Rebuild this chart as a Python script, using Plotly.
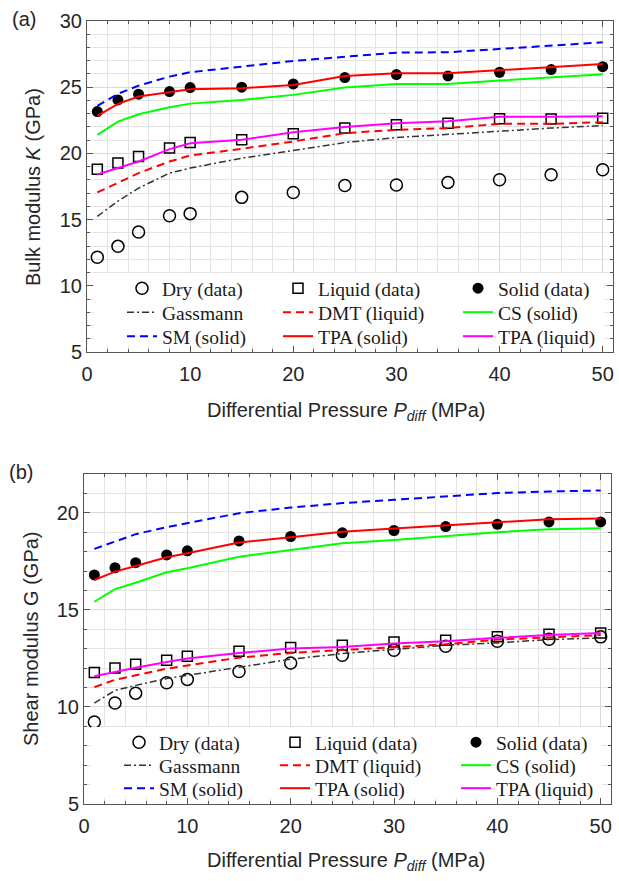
import plotly.graph_objects as go

P = [1, 3, 5, 8, 10, 15, 20, 25, 30, 35, 40, 45, 50]

# Bulk modulus K (GPa)
K_dry = [12.15, 12.98, 14.06, 15.29, 15.45, 16.68, 17.05, 17.58, 17.61, 17.81, 18.01, 18.39, 18.76]
K_liq = [18.81, 19.27, 19.77, 20.40, 20.82, 21.03, 21.48, 21.91, 22.16, 22.28, 22.61, 22.59, 22.66]
K_sol = [23.16, 24.04, 24.47, 24.67, 24.97, 25.00, 25.25, 25.73, 25.95, 25.85, 26.13, 26.33, 26.55]
K_gass = [15.24, 16.40, 17.38, 18.51, 18.89, 19.64, 20.22, 20.82, 21.20, 21.45, 21.70, 21.91, 22.10]
K_dmt = [17.05, 17.81, 18.51, 19.39, 19.84, 20.35, 20.90, 21.53, 21.78, 21.91, 22.23, 22.23, 22.36]
K_cs = [21.40, 22.40, 22.96, 23.49, 23.76, 24.04, 24.42, 24.97, 25.25, 25.24, 25.50, 25.75, 25.98]
K_sm = [23.59, 24.50, 25.12, 25.80, 26.13, 26.55, 26.98, 27.30, 27.61, 27.64, 27.89, 28.11, 28.39]
K_tpa_s = [22.84, 23.74, 24.29, 24.60, 24.85, 24.92, 25.17, 25.85, 26.05, 26.05, 26.30, 26.55, 26.76]
K_tpa_l = [18.41, 18.89, 19.39, 20.32, 20.77, 21.03, 21.60, 22.00, 22.28, 22.43, 22.76, 22.76, 22.81]

# Shear modulus G (GPa)
G_dry = [9.22, 10.20, 10.71, 11.25, 11.42, 11.83, 12.26, 12.66, 12.92, 13.13, 13.38, 13.49, 13.61]
G_liq = [11.77, 12.00, 12.20, 12.40, 12.61, 12.87, 13.06, 13.18, 13.35, 13.44, 13.61, 13.75, 13.81]
G_sol = [16.80, 17.17, 17.43, 17.83, 18.04, 18.55, 18.78, 18.97, 19.09, 19.29, 19.41, 19.53, 19.53]
G_gass = [10.20, 10.85, 11.11, 11.46, 11.63, 12.06, 12.46, 12.75, 12.95, 13.18, 13.30, 13.47, 13.56]
G_dmt = [11.02, 11.40, 11.63, 11.97, 12.14, 12.54, 12.78, 12.92, 13.09, 13.23, 13.47, 13.58, 13.70]
G_cs = [15.42, 16.07, 16.40, 16.94, 17.14, 17.74, 18.09, 18.43, 18.60, 18.81, 19.00, 19.16, 19.21]
G_sm = [18.14, 18.52, 18.90, 19.26, 19.47, 19.98, 20.27, 20.50, 20.67, 20.84, 21.02, 21.10, 21.15]
G_tpa_s = [16.54, 16.97, 17.26, 17.71, 17.92, 18.47, 18.74, 19.02, 19.19, 19.36, 19.52, 19.67, 19.71]
G_tpa_l = [11.58, 11.80, 12.02, 12.31, 12.49, 12.78, 13.01, 13.09, 13.27, 13.38, 13.56, 13.70, 13.81]

names = ["Dry (data)", "Liquid (data)", "Solid (data)", "Gassmann", "DMT (liquid)",
         "CS (solid)", "SM (solid)", "TPA (solid)", "TPA (liquid)"]

W, H = 619, 881
fig = go.Figure()

styles = [
    dict(mode="markers", marker=dict(symbol="circle-open", size=12, color="black",
                                     line=dict(width=1.5, color="black"))),
    dict(mode="markers", marker=dict(symbol="square-open", size=10, color="black",
                                     line=dict(width=1.5, color="black"))),
    dict(mode="markers", marker=dict(symbol="circle", size=11, color="black")),
    dict(mode="lines", line=dict(color="#333333", width=1.5, dash="7px,3px,2px,3px")),
    dict(mode="lines", line=dict(color="#ff0000", width=2, dash="8px,5px")),
    dict(mode="lines", line=dict(color="#00ff00", width=2)),
    dict(mode="lines", line=dict(color="#0000ff", width=2, dash="8px,5px")),
    dict(mode="lines", line=dict(color="#ff0000", width=2)),
    dict(mode="lines", line=dict(color="#ff00ff", width=2)),
]

legfont = dict(family="Liberation Serif, Times New Roman, serif", size=19.5, color="#1a1a1a")
legends = {}

def add_panel(series, xa, ya, first_leg, text_x, row_y):
    for i, (ys, st) in enumerate(zip(series, styles)):
        n = first_leg + i
        key = "legend" if n == 1 else "legend%d" % n
        fig.add_trace(go.Scatter(x=P, y=ys, name=names[i], legend=key, xaxis=xa, yaxis=ya, **st))
        col, row = i % 3, i // 3
        legends[key] = dict(orientation="v", x=(text_x[col] - 40) / W, xanchor="left",
                            y=1 - (row_y[row] - 19) / H, yanchor="top",
                            bgcolor="rgba(0,0,0,0)", borderwidth=0, font=legfont,
                            tracegroupgap=0)

add_panel([K_dry, K_liq, K_sol, K_gass, K_dmt, K_cs, K_sm, K_tpa_s, K_tpa_l], "x", "y", 1,
          (162, 318, 498), (288, 312, 336))
add_panel([G_dry, G_liq, G_sol, G_gass, G_dmt, G_cs, G_sm, G_tpa_s, G_tpa_l], "x2", "y2", 10,
          (159, 315, 496), (742, 765, 788))

tickfont = dict(family="Arial, Liberation Sans, sans-serif", size=20, color="#262626")
gridc = "#d9d9d9"
mgridc = "#e4e4e4"
axc = "#555555"

def xax(domain, anchor):
    return dict(domain=domain, anchor=anchor, range=[0, 51], dtick=10, tick0=0,
                showgrid=True, gridcolor=gridc, gridwidth=1,
                minor=dict(dtick=2, showgrid=True, gridcolor=mgridc, ticks="inside", ticklen=3, tickcolor=axc),
                ticks="inside", ticklen=6, tickcolor=axc, showline=True, linecolor=axc, linewidth=1,
                mirror="ticks", zeroline=False, tickfont=tickfont, automargin=False,
                ticklabelstandoff=4)

def yax(domain, anchor, rng):
    return dict(domain=domain, anchor=anchor, range=rng, dtick=5, tick0=0,
                showgrid=True, gridcolor=gridc, gridwidth=1,
                minor=dict(dtick=1, showgrid=True, gridcolor=mgridc, ticks="inside", ticklen=3, tickcolor=axc),
                ticks="inside", ticklen=6, tickcolor=axc, showline=True, linecolor=axc, linewidth=1,
                mirror="ticks", zeroline=False, tickfont=tickfont, automargin=False)

fig.update_layout(
    width=W, height=H,
    margin=dict(l=0, r=0, t=0, b=0, autoexpand=False),
    paper_bgcolor="white", plot_bgcolor="white",
    xaxis=xax([87 / W, 613 / W], "y"),
    yaxis=yax([1 - 352 / H, 1 - 21 / H], "x", [5, 30]),
    xaxis2=xax([84 / W, 611 / W], "y2"),
    yaxis2=yax([1 - 804 / H, 1 - 474 / H], "x2", [5, 22]),
    showlegend=True,
    **legends,
)

# white legend backdrop inside each axes (hides the grid behind the legend)
fig.add_shape(type="rect", xref="x domain", yref="y domain", x0=0.013, x1=0.983,
              y0=0.019, y1=(352 - 273) / 331, fillcolor="white", line_width=0, layer="above")
fig.add_shape(type="rect", xref="x2 domain", yref="y2 domain", x0=0.013, x1=0.983,
              y0=0.019, y1=(804 - 727) / 330, fillcolor="white", line_width=0, layer="above")

labfont = dict(family="Arial, Liberation Sans, sans-serif", size=20, color="#262626")
ann = [
    dict(text="(a)", x=10 / W, y=1 - 19 / H, xanchor="left", yanchor="middle"),
    dict(text="(b)", x=7 / W, y=1 - 472 / H, xanchor="left", yanchor="middle"),
    dict(text="Bulk modulus <i>K</i> (GPa)", x=33 / W, y=1 - 187 / H, xanchor="center",
         yanchor="middle", textangle=-90),
    dict(text="Shear modulus G (GPa)", x=31 / W, y=1 - 639 / H, xanchor="center",
         yanchor="middle", textangle=-90),
    dict(text="Differential Pressure <i>P</i><sub><i>diff</i></sub> (MPa)", x=346 / W, y=1 - 397 / H,
         xanchor="center", yanchor="top"),
    dict(text="Differential Pressure <i>P</i><sub><i>diff</i></sub> (MPa)", x=346 / W, y=1 - 847 / H,
         xanchor="center", yanchor="top"),
]
for a in ann:
    a.update(xref="paper", yref="paper", showarrow=False, font=labfont)
fig.update_layout(annotations=ann)

fig.write_html("out.html")
